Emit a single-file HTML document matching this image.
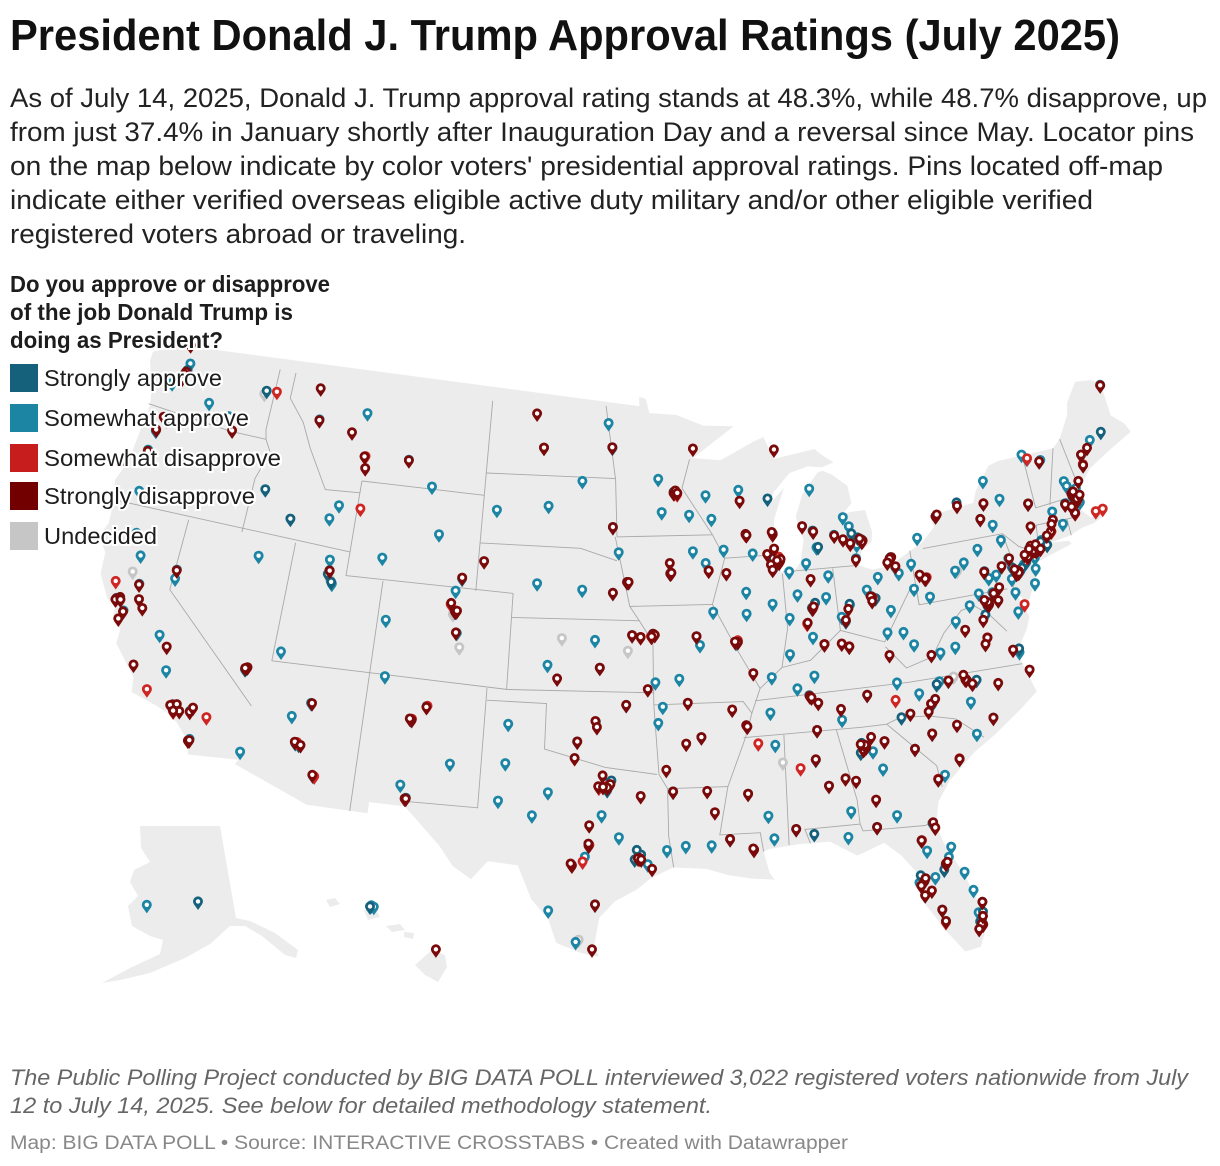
<!DOCTYPE html>
<html><head><meta charset="utf-8"><style>
html,body{margin:0;padding:0;background:#fff;}
svg{display:block;}
text{font-family:"Liberation Sans",Arial,sans-serif;}
</style></head><body>
<svg id="chart" width="1220" height="1166" viewBox="0 0 1220 1166" xmlns="http://www.w3.org/2000/svg">
<g id="maplayer"></g>
<g id="pinlayer"></g>
<g>
<text x="10" y="50" font-size="44" font-weight="bold" fill="#111" textLength="1110" lengthAdjust="spacingAndGlyphs">President Donald J. Trump Approval Ratings (July 2025)</text>
<g font-size="27" fill="#222">
<text x="10" y="107" textLength="1197" lengthAdjust="spacingAndGlyphs">As of July 14, 2025, Donald J. Trump approval rating stands at 48.3%, while 48.7% disapprove, up</text>
<text x="10" y="141" textLength="1184" lengthAdjust="spacingAndGlyphs">from just 37.4% in January shortly after Inauguration Day and a reversal since May. Locator pins</text>
<text x="10" y="175" textLength="1153" lengthAdjust="spacingAndGlyphs">on the map below indicate by color voters' presidential approval ratings. Pins located off-map</text>
<text x="10" y="209" textLength="1083" lengthAdjust="spacingAndGlyphs">indicate either verified overseas eligible active duty military and/or other eligible verified</text>
<text x="10" y="243" textLength="456" lengthAdjust="spacingAndGlyphs">registered voters abroad or traveling.</text>
</g>
</g>
<g>
<g font-size="23" font-weight="bold" fill="#1d1d1d" stroke="#fff" stroke-width="4" paint-order="stroke">
<text x="10" y="292" textLength="320" lengthAdjust="spacingAndGlyphs">Do you approve or disapprove</text>
<text x="10" y="320" textLength="283" lengthAdjust="spacingAndGlyphs">of the job Donald Trump is</text>
<text x="10" y="348" textLength="213" lengthAdjust="spacingAndGlyphs">doing as President?</text>
</g>
<g><rect x="10" y="364" width="28" height="28" fill="#15607a"/><text x="44" y="386" font-size="23" fill="#1d1d1d" stroke="#fff" stroke-width="4" paint-order="stroke" textLength="178" lengthAdjust="spacingAndGlyphs">Strongly approve</text></g>
<g><rect x="10" y="404" width="28" height="28" fill="#1d85a4"/><text x="44" y="426" font-size="23" fill="#1d1d1d" stroke="#fff" stroke-width="4" paint-order="stroke" textLength="205" lengthAdjust="spacingAndGlyphs">Somewhat approve</text></g>
<g><rect x="10" y="444" width="28" height="28" fill="#c71e1d"/><text x="44" y="466" font-size="23" fill="#1d1d1d" stroke="#fff" stroke-width="4" paint-order="stroke" textLength="237" lengthAdjust="spacingAndGlyphs">Somewhat disapprove</text></g>
<g><rect x="10" y="482" width="28" height="28" fill="#730000"/><text x="44" y="504" font-size="23" fill="#1d1d1d" stroke="#fff" stroke-width="4" paint-order="stroke" textLength="211" lengthAdjust="spacingAndGlyphs">Strongly disapprove</text></g>
<g><rect x="10" y="522" width="28" height="28" fill="#c6c6c6"/><text x="44" y="544" font-size="23" fill="#1d1d1d" stroke="#fff" stroke-width="4" paint-order="stroke" textLength="113" lengthAdjust="spacingAndGlyphs">Undecided</text></g>
</g>
<g>
<text x="10" y="1085" font-size="22" font-style="italic" fill="#666" textLength="1178" lengthAdjust="spacingAndGlyphs">The Public Polling Project conducted by BIG DATA POLL interviewed 3,022 registered voters nationwide from July</text>
<text x="10" y="1113" font-size="22" font-style="italic" fill="#666" textLength="702" lengthAdjust="spacingAndGlyphs">12 to July 14, 2025. See below for detailed methodology statement.</text>
<text x="10" y="1149" font-size="19" fill="#888" textLength="838" lengthAdjust="spacingAndGlyphs">Map: BIG DATA POLL • Source: INTERACTIVE CROSSTABS • Created with Datawrapper</text>
</g>
</svg>
<script>
// ---- data: pin locations [lon, lat] by response category ----
const strongApprove = [[-122.3,47.6],[-122.25,47.7],[-117.4,47.65],[-116.2,43.6],[-114.5,42.6],[-111.9,40.76],[-111.95,40.6],[-111.7,40.3],[-115.14,36.17],[-115.2,36.1],[-112.07,33.45],[-111.9,33.4],[-106.65,35.08],[-106.45,31.8],[-104.95,39.7],[-97.5,35.45],[-95.99,36.15],[-96.8,32.78],[-97.0,32.9],[-96.7,33.0],[-95.4,29.8],[-95.6,29.7],[-98.5,29.45],[-97.34,37.69],[-94.6,39.1],[-95.94,41.26],[-90.3,38.6],[-90.05,35.15],[-86.8,36.2],[-84.4,33.8],[-84.5,34.0],[-86.8,33.5],[-90.18,32.3],[-92.29,34.75],[-93.75,32.52],[-91.15,30.45],[-88.04,30.69],[-87.22,30.42],[-84.28,30.44],[-81.7,30.3],[-81.4,28.5],[-82.5,28.0],[-81.87,26.64],[-80.2,25.8],[-80.3,25.9],[-80.15,26.1],[-80.05,26.71],[-87.7,41.9],[-88.1,41.8],[-86.2,39.8],[-83.0,40.0],[-84.51,39.1],[-81.69,41.5],[-83.1,42.4],[-83.3,42.5],[-85.7,43.0],[-87.91,43.04],[-88.02,44.51],[-93.3,45.0],[-93.61,41.59],[-85.76,38.25],[-84.5,38.04],[-83.92,35.96],[-80.8,35.2],[-78.6,35.8],[-82.39,34.85],[-81.03,34.0],[-79.93,32.78],[-77.44,37.54],[-75.98,36.85],[-80.0,40.4],[-76.88,40.27],[-75.2,40.0],[-74.0,40.7],[-73.8,40.75],[-73.3,40.8],[-74.3,40.6],[-71.1,42.4],[-71.3,42.5],[-71.41,41.82],[-73.76,42.65],[-78.88,42.89],[-76.15,43.05],[-77.6,43.3],[-70.26,43.66],[-68.77,44.8],[-95.3,29.9],[-157.86,21.31],[-149.9,61.2],[-97.4,27.8],[-81.1,32.08],[-86.59,34.73],[-73.9,40.84],[-74.9,40.1],[-76.6,39.3],[-77.1,38.85],[-80.1,26.3],[-80.25,25.95],[-81.5,28.3],[-82.6,28.2],[-84.2,39.8],[-82.8,39.9],[-83.6,42.7],[-85.5,42.3],[-88.0,42.0],[-86.0,40.0],[-84.6,33.6],[-75.4,40.2],[-74.6,40.3],[-73.6,41.0],[-71.8,42.3],[-78.4,35.9],[-80.4,36.0],[-77.3,38.5],[-96.9,32.6],[-95.5,30.1]];
const someApprove = [[-120.5,46.6],[-119.2,46.25],[-122.9,47.0],[-122.2,48.0],[-123.0,44.9],[-123.1,44.05],[-121.3,44.05],[-122.9,42.3],[-112.0,43.5],[-112.4,42.9],[-111.3,47.5],[-108.5,45.8],[-106.3,42.85],[-109.2,41.6],[-104.8,41.1],[-107.0,44.8],[-103.23,44.08],[-100.35,44.37],[-98.49,45.46],[-96.73,43.55],[-100.78,46.8],[-96.79,46.88],[-97.03,47.92],[-100.77,41.12],[-98.34,40.92],[-96.7,40.81],[-95.68,39.05],[-97.61,38.84],[-100.02,37.75],[-101.83,35.22],[-101.85,33.58],[-102.08,32.0],[-99.73,32.45],[-100.44,31.46],[-97.15,31.55],[-97.74,30.27],[-96.33,30.63],[-98.23,26.2],[-99.5,27.5],[-94.1,30.08],[-93.22,30.23],[-92.02,30.22],[-90.07,29.95],[-89.09,30.37],[-89.29,31.33],[-88.7,34.26],[-86.3,32.37],[-85.39,31.22],[-85.31,35.05],[-83.63,32.84],[-81.97,33.47],[-83.28,30.83],[-82.32,29.65],[-82.14,29.19],[-81.02,29.21],[-81.95,28.04],[-82.53,27.34],[-81.79,26.14],[-80.61,28.08],[-80.35,27.27],[-85.66,30.16],[-94.4,35.39],[-94.16,36.06],[-94.51,37.08],[-93.29,37.21],[-92.33,38.95],[-92.17,38.58],[-89.59,40.69],[-89.65,39.78],[-88.24,40.12],[-91.4,39.94],[-89.09,42.27],[-91.67,41.98],[-92.34,42.49],[-90.66,42.5],[-96.4,42.5],[-91.5,44.81],[-89.63,44.96],[-91.24,43.81],[-94.16,45.56],[-92.47,44.02],[-94.0,44.16],[-85.62,44.76],[-83.95,43.42],[-83.69,43.01],[-84.56,42.73],[-85.59,42.29],[-85.14,41.08],[-86.25,41.68],[-86.88,40.42],[-87.41,39.47],[-87.57,37.97],[-85.39,40.19],[-84.19,39.76],[-83.54,41.65],[-81.52,41.08],[-81.38,40.8],[-80.65,41.1],[-82.52,40.76],[-82.1,39.33],[-80.72,40.06],[-81.63,38.35],[-82.45,38.42],[-79.96,39.63],[-81.19,37.78],[-79.94,37.27],[-79.14,37.41],[-78.87,38.45],[-86.44,36.99],[-88.6,37.08],[-87.36,36.53],[-88.81,35.61],[-82.35,36.31],[-79.79,36.07],[-80.24,36.1],[-81.34,35.73],[-77.95,34.23],[-78.88,35.05],[-78.89,33.69],[-80.75,32.22],[-80.09,42.13],[-77.86,40.79],[-78.4,40.52],[-77.0,41.24],[-75.66,41.41],[-75.49,40.6],[-76.31,40.04],[-76.73,39.96],[-75.91,42.1],[-76.5,42.44],[-75.23,43.1],[-75.91,43.97],[-73.45,44.7],[-73.21,44.48],[-71.54,43.21],[-71.46,42.99],[-71.8,42.26],[-72.59,42.1],[-72.67,41.76],[-72.93,41.31],[-73.54,41.05],[-74.76,40.22],[-74.2,39.95],[-74.42,39.36],[-75.55,39.74],[-75.52,39.16],[-75.6,38.36],[-77.41,39.41],[-76.49,38.98],[-76.7,39.35],[-77.0,38.95],[-122.42,37.77],[-121.89,37.34],[-121.49,38.58],[-119.79,36.74],[-119.02,35.37],[-117.4,33.95],[-117.1,32.8],[-122.39,40.59],[-121.84,39.73],[-119.8,39.53],[-119.77,39.16],[-115.76,40.83],[-111.65,35.2],[-110.97,32.22],[-114.6,32.7],[-112.47,34.54],[-106.78,32.32],[-105.94,35.69],[-108.2,36.73],[-104.8,38.83],[-108.55,39.06],[-105.08,40.58],[-111.97,41.2],[-113.6,37.1],[-111.65,40.23],[-161.8,60.8],[-157.8,21.35],[-157.7,21.3],[-114.0,46.9],[-104.52,33.39],[-98.4,34.6],[-95.0,29.5],[-97.9,29.8],[-84.0,33.6],[-80.3,26.3],[-82.7,27.9],[-88.0,41.6],[-83.4,42.2],[-75.0,40.0],[-74.2,40.9],[-71.0,42.2],[-72.5,44.3],[-69.5,44.6],[-68.0,46.7],[-70.2,44.1],[-71.0,42.8],[-80.2,26.0],[-81.2,28.8],[-84.7,39.3],[-83.2,40.3],[-86.3,38.6],[-87.2,41.4],[-78.0,39.0],[-74.1,40.4],[-72.2,41.5],[-76.0,36.7]];
const someDisapprove = [[-122.71,38.44],[-122.27,37.8],[-118.24,34.05],[-118.19,33.77],[-119.7,34.42],[-116.55,33.83],[-122.68,45.52],[-122.33,47.55],[-116.8,47.7],[-111.0,45.7],[-110.8,43.5],[-105.27,40.0],[-104.99,39.76],[-105.9,35.7],[-97.7,30.3],[-95.4,29.72],[-96.85,32.8],[-93.25,44.95],[-89.4,43.07],[-87.65,41.85],[-87.69,42.05],[-83.74,42.28],[-83.05,42.33],[-82.95,39.95],[-81.7,41.45],[-79.95,40.45],[-75.15,39.95],[-73.98,40.75],[-74.17,40.73],[-74.08,40.73],[-71.06,42.36],[-71.1,42.37],[-71.4,41.8],[-72.9,41.3],[-70.3,41.67],[-70.26,43.7],[-73.2,44.5],[-77.03,38.9],[-76.61,39.29],[-77.44,37.55],[-78.9,35.99],[-84.39,33.75],[-90.07,29.95],[-80.19,25.76],[-82.46,27.95],[-81.38,28.54],[-82.64,27.77],[-106.6,35.1],[-110.9,32.2],[-112.0,33.5],[-95.24,38.97],[-91.53,41.66],[-86.53,39.17],[-84.5,38.05],[-85.75,38.25],[-86.78,36.16],[-90.05,35.15],[-80.84,35.23],[-82.55,35.6],[-81.1,32.1],[-79.93,32.8],[-89.52,34.37],[-87.57,33.21],[-83.38,33.96],[-82.3,29.65],[-80.14,26.12],[-81.8,26.1],[-98.0,29.6],[-97.3,32.7],[-94.7,39.0],[-90.2,38.7],[-93.1,44.9],[-75.2,38.6],[-74.5,40.5],[-69.9,41.7]];
const strongDisapprove = [[-122.3,47.62],[-122.35,47.5],[-122.44,47.25],[-122.5,48.75],[-122.7,45.5],[-122.6,45.45],[-122.8,45.55],[-123.0,44.95],[-123.1,44.0],[-122.42,37.75],[-122.45,37.7],[-122.25,37.85],[-122.2,37.75],[-121.9,37.3],[-121.5,38.55],[-122.03,36.97],[-118.3,34.05],[-118.4,34.0],[-118.1,34.1],[-117.9,33.84],[-117.4,33.9],[-117.29,34.1],[-117.16,32.72],[-117.1,32.75],[-118.2,33.8],[-121.29,37.96],[-121.0,37.64],[-119.29,36.33],[-120.66,35.28],[-115.1,36.2],[-115.2,36.15],[-119.8,39.5],[-112.1,33.5],[-111.8,33.4],[-111.0,32.25],[-111.6,35.2],[-106.6,35.05],[-106.7,35.1],[-105.95,35.65],[-106.5,31.76],[-105.0,39.7],[-104.9,39.75],[-105.25,40.05],[-104.85,38.85],[-111.88,40.75],[-114.0,46.87],[-112.0,46.6],[-114.3,48.2],[-108.5,45.78],[-111.05,45.68],[-96.8,46.9],[-93.27,44.98],[-93.3,44.95],[-93.2,45.05],[-93.09,44.95],[-92.1,46.79],[-89.4,43.1],[-89.35,43.05],[-87.91,43.0],[-87.95,43.1],[-87.63,41.88],[-87.7,41.8],[-87.6,41.95],[-87.8,41.9],[-88.15,41.75],[-88.08,41.53],[-83.05,42.35],[-83.1,42.3],[-83.2,42.45],[-83.74,42.3],[-84.55,42.7],[-85.67,42.96],[-87.4,46.54],[-86.25,43.23],[-86.16,39.77],[-86.1,39.85],[-86.5,39.2],[-82.99,39.96],[-83.05,40.0],[-81.65,41.5],[-81.75,41.45],[-84.5,39.15],[-83.55,41.6],[-81.5,41.1],[-80.0,40.44],[-80.05,40.4],[-75.17,39.95],[-75.2,39.98],[-75.1,40.0],[-75.25,39.9],[-76.9,40.25],[-75.93,40.34],[-75.45,40.6],[-74.0,40.71],[-73.95,40.65],[-73.8,40.73],[-73.9,40.8],[-74.05,40.75],[-74.17,40.75],[-74.2,40.7],[-74.08,40.7],[-74.17,40.92],[-74.45,40.49],[-75.12,39.93],[-71.06,42.36],[-71.0,42.4],[-71.1,42.3],[-71.15,42.45],[-71.1,42.37],[-71.32,42.63],[-71.8,42.26],[-71.41,41.82],[-72.67,41.76],[-72.93,41.31],[-73.2,41.18],[-73.76,42.65],[-76.15,43.05],[-77.61,43.16],[-78.88,42.89],[-78.8,42.95],[-76.5,42.44],[-73.93,41.7],[-73.9,40.93],[-70.26,43.66],[-70.76,43.07],[-69.78,44.31],[-68.0,46.68],[-70.21,44.1],[-72.58,44.26],[-76.61,39.29],[-76.65,39.3],[-77.04,38.9],[-77.0,38.88],[-77.1,38.95],[-77.03,38.99],[-76.49,38.98],[-77.44,37.54],[-76.29,36.85],[-78.48,38.03],[-77.46,38.3],[-80.41,37.23],[-78.64,35.78],[-78.9,35.99],[-78.95,36.0],[-79.79,36.07],[-80.84,35.23],[-77.95,34.23],[-77.37,35.61],[-75.7,35.9],[-81.03,34.0],[-79.93,32.78],[-81.93,34.95],[-81.02,34.92],[-79.76,34.2],[-84.39,33.75],[-84.45,33.7],[-84.3,33.8],[-84.35,33.9],[-84.55,33.95],[-83.38,33.96],[-81.97,33.47],[-84.99,32.46],[-84.16,31.58],[-81.1,32.08],[-86.8,33.52],[-86.3,32.37],[-88.04,30.69],[-85.48,32.61],[-86.59,34.73],[-90.18,32.3],[-90.05,35.15],[-90.0,35.1],[-86.78,36.16],[-86.7,36.1],[-83.92,35.96],[-86.39,35.85],[-85.76,38.25],[-84.5,38.04],[-84.87,38.2],[-82.52,37.48],[-90.2,38.63],[-90.35,38.65],[-94.58,39.1],[-94.5,39.05],[-94.67,38.98],[-92.33,38.95],[-89.52,37.3],[-92.29,34.75],[-90.7,35.84],[-93.05,34.5],[-94.05,33.43],[-90.07,29.95],[-90.1,30.0],[-91.15,30.45],[-93.75,32.52],[-92.12,32.5],[-95.37,29.76],[-95.45,29.75],[-95.3,29.7],[-96.8,32.78],[-96.75,32.85],[-96.9,32.7],[-97.33,32.75],[-97.1,32.73],[-97.74,30.27],[-97.75,30.35],[-98.49,29.42],[-98.55,29.5],[-106.45,31.76],[-97.5,25.9],[-97.4,27.8],[-97.73,31.12],[-95.3,32.35],[-94.8,29.3],[-97.13,33.21],[-97.52,35.47],[-97.44,35.22],[-95.99,36.15],[-98.39,34.6],[-97.34,37.69],[-98.5,33.91],[-95.68,39.05],[-95.24,38.97],[-95.94,41.26],[-96.7,40.81],[-93.61,41.59],[-93.55,41.62],[-93.62,42.03],[-90.58,41.52],[-91.53,41.66],[-95.86,41.26],[-96.73,43.55],[-101.3,48.23],[-100.78,46.8],[-104.8,41.14],[-80.19,25.76],[-80.25,25.8],[-80.14,26.12],[-80.05,26.71],[-81.38,28.54],[-81.3,28.6],[-82.46,27.95],[-82.4,28.05],[-82.64,27.77],[-82.53,27.34],[-81.66,30.33],[-84.28,30.44],[-82.32,29.65],[-81.87,26.64],[-81.79,26.14],[-155.09,19.72],[-118.8,45.7],[-124.2,43.4],[-110.9,45.2],[-89.6,44.5],[-99.5,37.2],[-103.7,41.9],[-94.9,36.8],[-92.9,36.2],[-91.8,31.6],[-74.3,40.8],[-74.6,40.6],[-75.3,40.1],[-76.3,39.5],[-77.2,39.1],[-73.7,40.7],[-72.8,41.6],[-71.5,42.1],[-71.2,42.7],[-70.9,42.5],[-80.3,40.6],[-81.9,41.3],[-84.3,39.6],[-83.0,39.8],[-84.1,42.5],[-88.3,42.2],[-87.9,42.4],[-86.1,41.0],[-85.3,35.5],[-84.0,34.2],[-80.6,35.4],[-79.0,36.2],[-77.6,37.3],[-81.6,30.1],[-80.4,25.6],[-82.2,27.5]];
const undecided = [[-117.5,47.5],[-99.33,38.88],[-104.6,38.25],[-88.4,33.5],[-78.3,40.5],[-71.25,42.6],[-79.5,36.2],[-98.1,26.3],[-111.8,40.4],[-105.1,39.6],[-122.0,39.0],[-95.9,38.4]];
// map geometry (lon/lat)
const usOutline = [[-124.7,48.4],[-123.1,49.0],[-95.2,49.0],[-95.2,49.4],[-94.8,49.3],[-94.6,48.7],[-93.0,48.6],[-91.4,48.1],[-89.6,48.0],[-92.1,46.75],[-90.5,46.6],[-88.5,47.3],[-87.9,47.45],[-87.4,46.5],[-85.0,46.75],[-84.6,46.45],[-84.0,46.1],[-84.7,45.95],[-85.5,46.05],[-86.6,45.85],[-87.6,45.1],[-88.0,44.55],[-87.5,44.9],[-87.0,45.25],[-87.7,44.0],[-87.9,43.0],[-87.8,42.3],[-87.55,41.7],[-87.0,41.65],[-86.5,42.1],[-86.2,43.0],[-86.5,44.0],[-86.0,44.9],[-85.0,45.75],[-84.7,45.8],[-84.2,45.6],[-83.4,45.05],[-83.3,44.3],[-83.9,43.9],[-83.4,43.95],[-82.6,43.95],[-82.4,43.0],[-82.5,42.6],[-83.1,42.3],[-83.4,41.7],[-82.7,41.45],[-81.7,41.5],[-80.5,42.0],[-79.8,42.25],[-79.0,42.8],[-79.1,43.3],[-78.0,43.4],[-76.6,43.5],[-76.3,44.0],[-75.3,44.9],[-74.7,45.0],[-71.5,45.0],[-71.0,45.3],[-70.2,46.2],[-70.0,46.7],[-69.2,47.45],[-68.3,47.35],[-67.8,47.1],[-67.8,45.7],[-67.2,45.2],[-67.0,44.8],[-68.5,44.3],[-69.8,43.8],[-70.7,43.1],[-70.8,42.7],[-71.0,42.3],[-70.5,41.8],[-70.0,42.05],[-69.95,41.7],[-70.5,41.55],[-71.1,41.5],[-71.9,41.3],[-73.0,41.2],[-72.0,41.1],[-71.9,40.95],[-73.9,40.55],[-74.0,40.2],[-74.9,38.95],[-75.5,39.6],[-75.1,38.8],[-75.0,38.4],[-75.3,37.9],[-76.0,37.1],[-75.9,36.6],[-75.5,35.3],[-76.5,34.7],[-77.9,33.9],[-79.1,33.3],[-80.5,32.3],[-81.2,31.5],[-81.5,30.5],[-81.2,29.6],[-80.6,28.4],[-80.1,26.9],[-80.1,25.8],[-80.4,25.2],[-81.1,25.1],[-81.8,26.1],[-82.7,27.6],[-82.7,28.7],[-83.3,29.5],[-84.0,30.1],[-85.3,29.7],[-86.5,30.4],[-88.0,30.4],[-89.3,30.3],[-89.6,30.2],[-89.4,29.3],[-89.2,29.0],[-90.2,29.1],[-91.3,29.3],[-92.3,29.6],[-93.8,29.7],[-94.8,29.3],[-95.5,28.8],[-96.5,28.3],[-97.2,27.6],[-97.4,26.5],[-97.2,25.95],[-98.0,26.1],[-99.1,26.5],[-99.5,27.5],[-100.3,28.3],[-101.0,29.7],[-102.4,29.8],[-103.1,29.0],[-104.0,29.5],[-104.7,30.3],[-106.5,31.8],[-108.2,31.8],[-108.2,31.33],[-111.1,31.33],[-114.8,32.5],[-114.7,32.7],[-117.1,32.5],[-117.3,33.1],[-118.0,33.7],[-118.5,34.0],[-119.2,34.2],[-120.5,34.5],[-120.6,35.1],[-121.9,36.3],[-121.9,36.9],[-122.4,37.2],[-122.5,37.8],[-123.0,38.0],[-123.7,38.9],[-123.8,39.8],[-124.4,40.4],[-124.1,41.0],[-124.2,42.0],[-124.5,42.8],[-124.1,43.7],[-124.0,45.0],[-123.9,46.2],[-124.1,46.9],[-124.7,48.0]];
const stateLines = [
[[-124,46.25],[-119,46.0],[-116.9,46.0]],
[[-117.03,49],[-117.03,46.4],[-116.9,46.0],[-116.5,45.5],[-117.0,44.3],[-117.03,42.0]],
[[-124.2,42],[-111.05,42]],
[[-120,42],[-120,39],[-114.6,35]],
[[-114.05,42],[-114.05,37]],
[[-114.05,37],[-102.0,37]],
[[-109.05,37],[-109.05,31.33]],
[[-109.05,41],[-109.05,37]],
[[-111.05,42],[-111.05,41],[-102.05,41]],
[[-111.05,45],[-104.05,45]],[[-111.05,45],[-111.05,42]],
[[-116.05,49],[-116.05,47.9],[-115.0,47.0],[-114.3,46],[-113.0,44.4],[-111.05,44.5]],
[[-104.05,49],[-104.05,41]],[[-104.05,45.94],[-96.6,45.94]],
[[-104.05,43],[-98.5,43],[-96.5,42.5]],
[[-102.05,40],[-95.3,40]],[[-102,37],[-94.6,37]],
[[-103,36.5],[-100,36.5],[-100,34.6],[-97,33.9],[-94.5,33.6]],
[[-103.05,37],[-103.05,32],[-106.6,32]],
[[-102.05,41],[-102.05,37]],
[[-97.2,49],[-96.6,45.9],[-96.5,43.5]],[[-96.5,43.5],[-91.2,43.5]],
[[-92.3,46.7],[-92.8,45.5],[-91.2,43.5]],
[[-95.8,40.6],[-91.4,40.6]],
[[-96.6,43.5],[-95.8,40.6],[-95.3,40],[-94.6,39.1],[-94.6,36.5],[-94.4,33.6],[-94.0,33],[-94.0,31.0],[-93.8,29.7]],
[[-91.2,43.5],[-90.6,42.5],[-91.4,40.6],[-90.2,38.6],[-89.2,37],[-89.7,36],[-90.1,35],[-91.1,33],[-91.6,31],[-89.7,31],[-89.6,30.2]],
[[-94.6,36.5],[-90.1,36.5],[-89.7,36.0]],[[-94.0,33],[-91.1,33]],
[[-90.6,42.5],[-87.8,42.5]],[[-87.53,41.7],[-87.53,39.4],[-88.0,37.8]],
[[-89.2,37],[-88.0,37.8],[-86.5,38],[-84.8,39.1],[-82.6,38.4],[-80.7,40.6]],
[[-84.8,41.7],[-84.8,39.1]],[[-87.5,41.76],[-83.4,41.7]],
[[-89.5,36.5],[-81.7,36.6],[-75.9,36.55]],
[[-90.2,35],[-84.3,35],[-83.1,35],[-82.4,35.2],[-81.0,35.1],[-79.7,34.8],[-78.5,33.85]],
[[-88.2,35],[-88.4,30.4]],[[-85.6,35],[-85.0,32],[-85.0,31],[-87.6,31],[-87.4,30.4]],
[[-85.0,31],[-84.9,30.7],[-82.0,30.6],[-81.5,30.7]],[[-83.1,35],[-81.0,33.0],[-80.9,32.1]],
[[-80.52,39.72],[-75.8,39.72]],[[-80.52,42],[-80.52,39.72]],
[[-79.8,42],[-75.4,42],[-74.7,41.35],[-74.0,41.0]],[[-75.4,42],[-75.1,40.2],[-75.6,39.6]],
[[-80.52,39.72],[-80.52,40.6]],
[[-77.7,39.3],[-78.4,39.2],[-79.5,38.4],[-80.3,37.5],[-81.7,37.2],[-82.6,38.2]],
[[-77.7,39.3],[-77.0,38.8],[-76.3,38.0]],
[[-72.5,42.73],[-71.5,45.0]],[[-73.3,45],[-73.3,42.75]],
[[-73.3,42.75],[-71.0,42.85]],[[-73.5,42.05],[-71.8,42.0],[-71.4,42.0]],
[[-71.8,42.0],[-71.8,41.3]],[[-73.5,42.05],[-73.7,41.0]],[[-71.0,45.3],[-70.7,43.1]]
];
// ---- projection (Albers conic) ----
const n = (Math.sin(29.5*Math.PI/180)+Math.sin(45.5*Math.PI/180))/2;
const Cc = Math.cos(29.5*Math.PI/180)**2 + 2*n*Math.sin(29.5*Math.PI/180);
function rho(lat){return Math.sqrt(Cc-2*n*Math.sin(lat*Math.PI/180))/n;}
const rho0 = rho(37.5), SX = 1430, SY = 1365, TX = 626, TY = 681;
function project(lon,lat){
  if(lat>50 && lon<-130){ return [198+(lon+149.9)*4.3, 910-(lat-61.2)*8.5]; }
  if(lon<-150 && lat<25){ return [370+(lon+157.86)*23.8, 915-(lat-21.31)*27]; }
  const r=rho(lat), th=n*(lon+96)*Math.PI/180;
  return [TX+SX*r*Math.sin(th), TY-SY*(rho0-r*Math.cos(th))];
}
const NS='http://www.w3.org/2000/svg';
const mapL=document.getElementById('maplayer'), pinL=document.getElementById('pinlayer');
function pathOf(pts,close){return pts.map((p,i)=>{const q=project(p[0],p[1]);return (i?'L':'M')+q[0].toFixed(1)+','+q[1].toFixed(1);}).join('')+(close?'Z':'');}
const land=document.createElementNS(NS,'path');
land.setAttribute('d',pathOf(usOutline,true));
land.setAttribute('fill','#ececec');


mapL.appendChild(land);
const ak=document.createElementNS(NS,'path');
ak.setAttribute('d','M140,826L220,826L236,918L250,921L275,933L298,950L296,958L285,955L262,936L245,926L230,926L210,944L185,958L150,973L120,980L102,983L130,968L160,954L163,940L150,936L132,926L128,906L138,896L130,882L134,870L150,862L141,848Z');
ak.setAttribute('fill','#ececec');


mapL.appendChild(ak);
const hi=document.createElementNS(NS,'path');
hi.setAttribute('d','M326,900L335,898L340,904L330,907Z M364,910L376,909L380,917L368,920Z M386,926L400,924L405,930L392,932Z M404,932L414,933L413,939L404,937Z M432,950L445,955L447,967L438,982L425,975L415,965Z');
hi.setAttribute('fill','#ececec');


mapL.appendChild(hi);
stateLines.forEach(function(l){
  const p=document.createElementNS(NS,'path');
  p.setAttribute('d',pathOf(l,false));
  p.setAttribute('fill','none');p.setAttribute('stroke','#a9a9a9');p.setAttribute('stroke-width','0.9');
  
  
  mapL.appendChild(p);
});
function drawPins(arr,color,name){
  arr.forEach(function(d){
    const q=project(d[0],d[1]);
    const g=document.createElementNS(NS,'g');
    g.setAttribute('transform','translate('+q[0].toFixed(1)+','+q[1].toFixed(1)+')');
    
    
    const a=document.createElementNS(NS,'path');
    a.setAttribute('d','M0,0L-4,-5.6A5,5 0 1 1 4,-5.6Z');
    a.setAttribute('fill',color);
    g.appendChild(a);
    const c=document.createElementNS(NS,'circle');
    c.setAttribute('cx','0');c.setAttribute('cy','-8.6');c.setAttribute('r','2.2');c.setAttribute('fill','#fff');
    g.appendChild(c);
    pinL.appendChild(g);
  });
}
drawPins(undecided,'#c6c6c6','pin-undecided');
drawPins(someApprove,'#1d85a4','pin-somewhat-approve');
drawPins(strongApprove,'#15607a','pin-strongly-approve');
drawPins(someDisapprove,'#cf2624','pin-somewhat-disapprove');
drawPins(strongDisapprove,'#7a0a0a','pin-strongly-disapprove');
</script>
</body></html>
